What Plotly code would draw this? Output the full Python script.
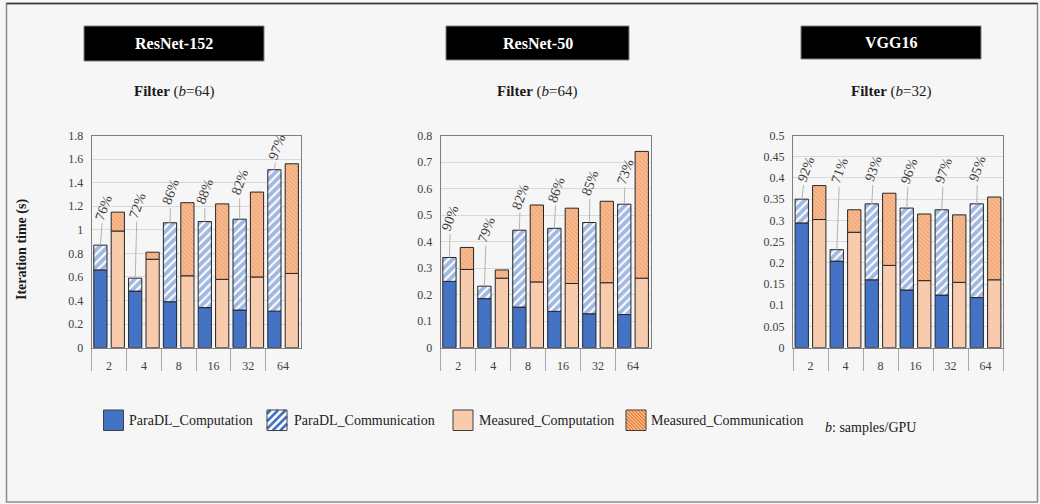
import plotly.graph_objects as go

W, H = 1040, 504

# ---- data -------------------------------------------------------------
batch_sizes = ["2", "4", "8", "16", "32", "64"]

# ResNet-152, filter parallelism, b=64
r152_paradl_comp = [0.66, 0.48, 0.39, 0.34, 0.32, 0.31]
r152_paradl_total = [0.87, 0.59, 1.06, 1.07, 1.09, 1.51]
r152_measured_comp = [0.99, 0.75, 0.61, 0.58, 0.60, 0.63]
r152_measured_total = [1.15, 0.81, 1.23, 1.22, 1.32, 1.56]
r152_accuracy = ["76%", "72%", "86%", "88%", "82%", "97%"]

# ResNet-50, filter parallelism, b=64
r50_paradl_comp = [0.250, 0.185, 0.153, 0.137, 0.128, 0.125]
r50_paradl_total = [0.340, 0.232, 0.443, 0.450, 0.472, 0.541]
r50_measured_comp = [0.295, 0.262, 0.248, 0.242, 0.245, 0.262]
r50_measured_total = [0.378, 0.293, 0.538, 0.526, 0.552, 0.740]
r50_accuracy = ["90%", "79%", "82%", "86%", "85%", "73%"]

# VGG16, filter parallelism, b=32
vgg_paradl_comp = [0.294, 0.204, 0.160, 0.136, 0.124, 0.118]
vgg_paradl_total = [0.350, 0.231, 0.339, 0.329, 0.325, 0.339]
vgg_measured_comp = [0.302, 0.272, 0.194, 0.158, 0.154, 0.160]
vgg_measured_total = [0.382, 0.325, 0.364, 0.315, 0.313, 0.355]
vgg_accuracy = ["92%", "71%", "93%", "96%", "97%", "95%"]

legend_names = ["ParaDL_Computation", "ParaDL_Communication",
                "Measured_Computation", "Measured_Communication"]

# ---- styling ----------------------------------------------------------
SERIF = "Liberation Serif"
BLUE = "#4472C4"
PEACH = "#F8CBAD"
ORANGE = "#ED7D31"
HATCH_BG = "#FAD6BE"
OUTLINE = "#262626"
BG = "#f6f6f6"


def px(x):
    return x / W


def py(y):
    return 1 - y / H


panels = [
    dict(title="ResNet-152", sub="<b>Filter</b> (<i>b</i>=64)",
         pc=r152_paradl_comp, pt=r152_paradl_total,
         mc=r152_measured_comp, mt=r152_measured_total, acc=r152_accuracy,
         yrange=[0, 1.8], dtick=0.2, dom=(91.7, 300.5),
         box=(84, 264, 26, 61),
         label_off=[(3, -38), (2, -73), (1, -31), (0, -30), (0, -37), (3, -23)]),
    dict(title="ResNet-50", sub="<b>Filter</b> (<i>b</i>=64)",
         pc=r50_paradl_comp, pt=r50_paradl_total,
         mc=r50_measured_comp, mt=r50_measured_total, acc=r50_accuracy,
         yrange=[0, 0.8], dtick=0.1, dom=(440.7, 650.5),
         box=(446, 629, 26, 60),
         label_off=[(1, -40), (2, -57), (1, -34), (2, -39), (1, -40), (1, -33)]),
    dict(title="VGG16", sub="<b>Filter</b> (<i>b</i>=32)",
         pc=vgg_paradl_comp, pt=vgg_paradl_total,
         mc=vgg_measured_comp, mt=vgg_measured_total, acc=vgg_accuracy,
         yrange=[0, 0.5], dtick=0.05, dom=(793, 1003),
         box=(801, 981, 26, 59),
         label_off=[(4, -30), (3, -79), (2, -35), (2, -37), (2, -39), (1, -35)]),
]

PLOT_TOP, PLOT_BOTTOM = 135.5, 347.7
PARADL_OFFSET, MEASURED_OFFSET, BAR_W = -0.44, 0.06, 0.38

fig = go.Figure()
shapes = []
annotations = []

for k, p in enumerate(panels):
    sfx = "" if k == 0 else str(k + 1)
    xa, ya = "x" + sfx, "y" + sfx
    paradl_comm = [t - c for t, c in zip(p["pt"], p["pc"])]
    measured_comm = [t - c for t, c in zip(p["mt"], p["mc"])]
    line = dict(color=OUTLINE, width=1)

    fig.add_trace(go.Bar(x=batch_sizes, y=p["pc"], offset=PARADL_OFFSET, width=BAR_W,
                         marker=dict(color=BLUE, line=line), name=legend_names[0],
                         xaxis=xa, yaxis=ya, showlegend=False))
    fig.add_trace(go.Bar(x=batch_sizes, y=paradl_comm, base=p["pc"],
                         offset=PARADL_OFFSET, width=BAR_W,
                         marker=dict(color="white", line=line,
                                     pattern=dict(shape="/", fgcolor=BLUE, bgcolor="white",
                                                  size=6, solidity=0.65)),
                         name=legend_names[1], xaxis=xa, yaxis=ya, showlegend=False))
    fig.add_trace(go.Bar(x=batch_sizes, y=p["mc"], offset=MEASURED_OFFSET, width=BAR_W,
                         marker=dict(color=PEACH, line=line), name=legend_names[2],
                         xaxis=xa, yaxis=ya, showlegend=False))
    fig.add_trace(go.Bar(x=batch_sizes, y=measured_comm, base=p["mc"],
                         offset=MEASURED_OFFSET, width=BAR_W,
                         marker=dict(color=HATCH_BG, line=line,
                                     pattern=dict(shape="\\", fgcolor=ORANGE, bgcolor=HATCH_BG,
                                                  size=3, solidity=0.8)),
                         name=legend_names[3], xaxis=xa, yaxis=ya, showlegend=False))

    x0, x1 = p["dom"]
    fig.update_layout(**{
        "xaxis" + sfx: dict(domain=[px(x0), px(x1)], anchor=ya, type="category",
                            categoryorder="array", categoryarray=batch_sizes,
                            range=[-0.5, 5.5], showline=True, mirror=True,
                            linecolor="#7f7f7f", linewidth=1.2, automargin=False,
                            ticks="outside", tickson="boundaries", ticklen=22,
                            tickcolor="#a6a6a6", tickwidth=1,
                            ticklabelstandoff=7, showgrid=False,
                            tickfont=dict(family=SERIF, size=12, color="#404040")),
        "yaxis" + sfx: dict(domain=[py(PLOT_BOTTOM), py(PLOT_TOP)], anchor=xa,
                            range=p["yrange"], dtick=p["dtick"], tick0=0,
                            showline=True, mirror=True, linecolor="#7f7f7f", linewidth=1.2,
                            showgrid=True, gridcolor="#d9d9d9", gridwidth=1,
                            zeroline=False, ticks="", ticklabelstandoff=5, automargin=False,
                            tickfont=dict(family=SERIF, size=12, color="#404040")),
    })

    # accuracy labels with leader lines above the ParaDL bars
    for i, (txt, top) in enumerate(zip(p["acc"], p["pt"])):
        ax_off, ay_off = p["label_off"][i]
        annotations.append(dict(
            x=i + PARADL_OFFSET + BAR_W / 2, y=top, xref=xa, yref=ya,
            text=txt, textangle=-70, showarrow=True, arrowhead=0,
            arrowwidth=1, arrowcolor="#b3b3b3", ax=ax_off, ay=ay_off,
            xanchor="center", yanchor="middle",
            standoff=0, startstandoff=1,
            font=dict(family=SERIF, size=14, color="#404040")))

    # black header box with the model name
    bx0, bx1, by0, by1 = p["box"]
    shapes.append(dict(type="rect", xref="paper", yref="paper",
                       x0=px(bx0), x1=px(bx1), y0=py(by1), y1=py(by0),
                       fillcolor="black", line=dict(color="#808080", width=1)))
    annotations.append(dict(x=px((bx0 + bx1) / 2), y=py((by0 + by1) / 2),
                            xref="paper", yref="paper", showarrow=False,
                            xanchor="center", yanchor="middle",
                            text="<b>%s</b>" % p["title"],
                            font=dict(family=SERIF, size=16, color="white")))
    annotations.append(dict(x=px((bx0 + bx1) / 2), y=py(91.5),
                            xref="paper", yref="paper", showarrow=False,
                            xanchor="center", yanchor="middle",
                            text=p["sub"],
                            font=dict(family=SERIF, size=15, color="#1a1a1a")))

# y-axis title shared by the three panels
annotations.append(dict(x=px(22), y=py(250), xref="paper", yref="paper",
                        showarrow=False, textangle=-90,
                        xanchor="center", yanchor="middle",
                        text="<b>Iteration time (s)</b>",
                        font=dict(family=SERIF, size=14, color="#1a1a1a")))


# ---- legend drawn as swatches + labels --------------------------------
def stripes(x0, y0, x1, y1, step, forward=True):
    segs = []
    if forward:  # "/" lines: x + y = c
        c = x0 + y0 + step / 2
        while c < x1 + y1:
            xa_, xb_ = max(x0, c - y1), min(x1, c - y0)
            if xb_ > xa_:
                segs.append("M%.5f,%.5f L%.5f,%.5f" % (px(xa_), py(c - xa_), px(xb_), py(c - xb_)))
            c += step
    else:  # "\" lines: x - y = c
        c = x0 - y1 + step / 2
        while c < x1 - y0:
            xa_, xb_ = max(x0, c + y0), min(x1, c + y1)
            if xb_ > xa_:
                segs.append("M%.5f,%.5f L%.5f,%.5f" % (px(xa_), py(xa_ - c), px(xb_), py(xb_ - c)))
            c += step
    return " ".join(segs)


legend_items = [
    dict(x=103.5, fill=BLUE, hatch=None, text_x=127),
    dict(x=267, fill="white", hatch=(BLUE, 7.5, True, 2.6), text_x=292),
    dict(x=453, fill=PEACH, hatch=None, text_x=477),
    dict(x=626, fill=HATCH_BG, hatch=(ORANGE, 3.4, False, 1.6), text_x=649),
]
SW, SY0, SY1 = 20, 410, 430.5
for name, it in zip(legend_names, legend_items):
    sx0, sx1 = it["x"], it["x"] + SW
    shapes.append(dict(type="rect", xref="paper", yref="paper",
                       x0=px(sx0), x1=px(sx1), y0=py(SY1), y1=py(SY0),
                       fillcolor=it["fill"], line=dict(width=0)))
    if it["hatch"]:
        col, step, fwd, lw = it["hatch"]
        shapes.append(dict(type="path", xref="paper", yref="paper",
                           path=stripes(sx0, SY0, sx1, SY1, step, fwd),
                           line=dict(color=col, width=lw)))
    shapes.append(dict(type="rect", xref="paper", yref="paper",
                       x0=px(sx0), x1=px(sx1), y0=py(SY1), y1=py(SY0),
                       fillcolor="rgba(0,0,0,0)", line=dict(color="#404040", width=1)))
    annotations.append(dict(x=px(it["text_x"]), y=py(420.5), xref="paper", yref="paper",
                            xanchor="left", yanchor="middle", showarrow=False, text=name,
                            font=dict(family=SERIF, size=14, color="#1a1a1a")))

annotations.append(dict(x=px(823), y=py(427), xref="paper", yref="paper",
                        xanchor="left", yanchor="middle", showarrow=False,
                        text="<i>b</i>: samples/GPU",
                        font=dict(family=SERIF, size=14, color="#1a1a1a")))

# outer frame
shapes.append(dict(type="rect", xref="paper", yref="paper",
                   x0=px(6.5), x1=px(1037.5), y0=py(502), y1=py(3.5),
                   fillcolor="rgba(0,0,0,0)", line=dict(color="#8c8c8c", width=1.5)))
shapes.append(dict(type="line", xref="paper", yref="paper",
                   x0=px(6.5), x1=px(1037.5), y0=py(3.5), y1=py(3.5),
                   line=dict(color="#333333", width=1.5)))

fig.update_layout(
    width=W, height=H,
    margin=dict(l=0, r=0, t=0, b=0, autoexpand=False),
    barmode="overlay",
    paper_bgcolor=BG, plot_bgcolor=BG,
    showlegend=False,
    shapes=shapes,
    annotations=annotations,
    font=dict(family=SERIF),
)

fig.write_html("out.html")
